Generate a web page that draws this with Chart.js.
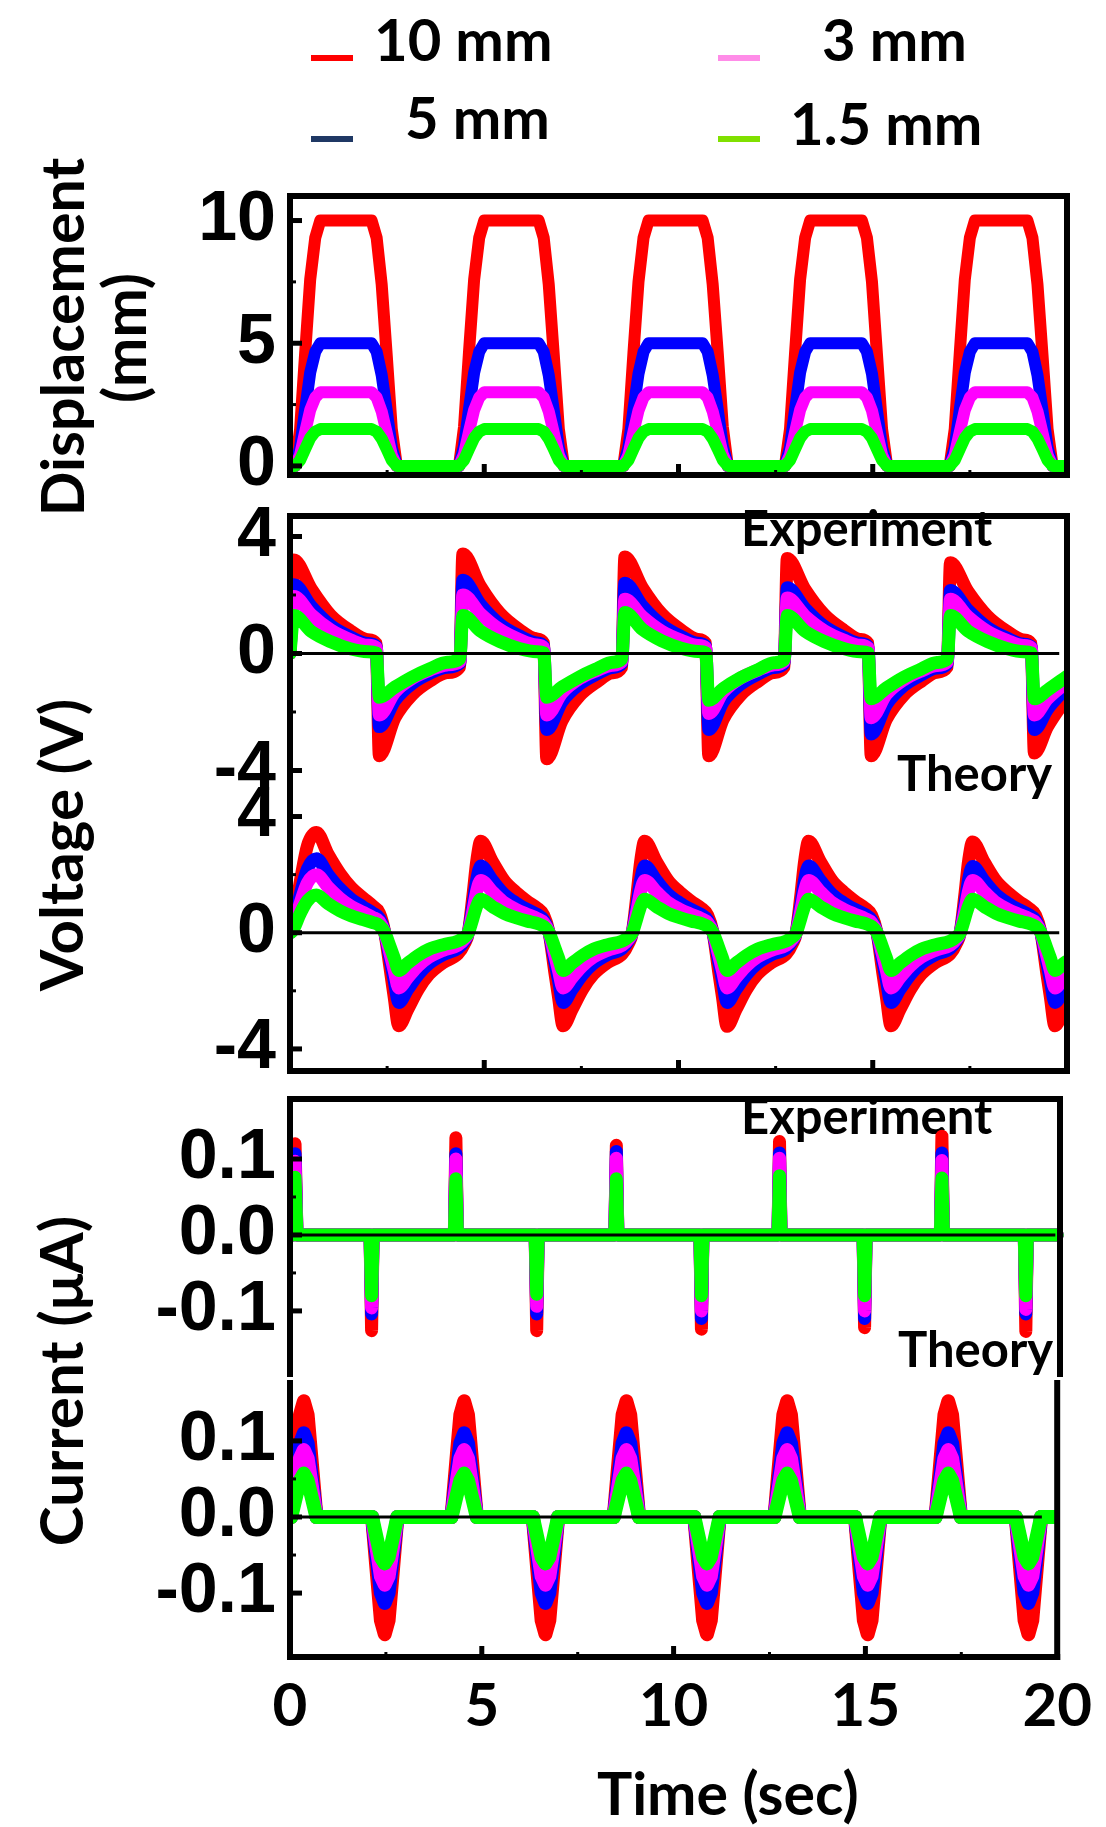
<!DOCTYPE html>
<html>
<head>
<meta charset="utf-8">
<script src="https://cdn.jsdelivr.net/npm/chart.js@4.4.1/dist/chart.umd.min.js"></script>
<style>
  html, body { margin: 0; padding: 0; background: #fff; }
  #page { position: relative; width: 1106px; height: 1827px; overflow: hidden; background: #fff; }
  canvas { position: absolute; left: 0; }
  .t { position: absolute; font-family: Lato, 'Open Sans', sans-serif; font-weight: 700; color: #000; white-space: nowrap; line-height: 1; }
  .rot { transform: translate(-50%, -50%) rotate(-90deg); }
  .dash { position: absolute; height: 6px; }
</style>
</head>
<body>
<div id="page">
  <div class="t rot" style="left:61px;top:337px;font-size:59px">Displacement</div>
  <div class="t rot" style="left:123px;top:338px;font-size:59px">(mm)</div>
  <div class="t rot" style="left:60px;top:845px;font-size:60px">Voltage (V)</div>
  <div class="t rot" style="left:60px;top:1381px;font-size:60px">Current (μA)</div>
  <div class="t" style="left:741px;top:503px;font-size:49px">Experiment</div>
  <div class="t" style="left:897px;top:748px;font-size:49px">Theory</div>
  <div class="t" style="left:741px;top:1091px;font-size:49px">Experiment</div>
  <div class="t" style="left:898px;top:1324px;font-size:49px">Theory</div>
  <div class="t" style="left:597px;top:1763px;font-size:59px">Time (sec)</div>
  <div id="legend"></div>
  <canvas id="c1" width="1106" height="440" style="top:120px;width:1106px;height:440px"></canvas>
  <canvas id="c2" width="1106" height="430" style="top:440px;width:1106px;height:430px"></canvas>
  <canvas id="c3" width="1106" height="435" style="top:715px;width:1106px;height:435px"></canvas>
  <canvas id="c4" width="1106" height="435" style="top:1020px;width:1106px;height:435px"></canvas>
  <canvas id="c5" width="1106" height="527" style="top:1300px;width:1106px;height:527px"></canvas>
</div>
<script>
// ---------------- series / legend ----------------
const seriesNames = ['10 mm', '5 mm', '3 mm', '1.5 mm'];
const lineColors = ['#ff0000', '#0000ff', '#ff00ff', '#00ff00'];
const legendColors = ['#ff0000', '#1f3864', '#ff8ce8', '#80e000'];

// ---------------- ticks ----------------
const timeTicks = [0, 5, 10, 15, 20];
const timeMinorTicks = [2.5, 7.5, 12.5, 17.5];
const dispTicks = [0, 5, 10];
const dispMinorTicks = [2.5, 7.5];
const voltTicks = [-4, 0, 4];
const voltMinorTicks = [-2, 2];
const currTicks = [-0.1, 0, 0.1];
const currMinorTicks = [-0.05, 0.05];

// ---------------- displacement (mm) ----------------
const dispTime = [0,
  0.13,0.26,0.39,0.52,0.65,0.78, 2.10,2.23,2.36,2.49,2.62,2.75,
  4.35,4.48,4.61,4.74,4.87,5.00, 6.40,6.53,6.66,6.79,6.92,7.05,
  8.58,8.71,8.84,8.97,9.10,9.23, 10.62,10.75,10.88,11.01,11.14,11.27,
  12.74,12.87,13.00,13.13,13.26,13.39, 14.72,14.85,14.98,15.11,15.24,15.37,
  16.98,17.11,17.24,17.37,17.50,17.63, 18.98,19.11,19.24,19.37,19.50,19.63,
  20];
const disp10mm = [0,
  0,1.5,4.6,7.6,9.3,10, 10,9.3,7.4,4.5,1.5,0,
  0,1.6,4.7,7.6,9.3,10, 10,9.3,7.4,4.5,1.5,0,
  0,1.5,4.6,7.5,9.3,10, 10,9.3,7.4,4.6,1.6,0,
  0,1.5,4.6,7.6,9.3,10, 10,9.3,7.5,4.5,1.5,0,
  0,1.5,4.6,7.6,9.3,10, 10,9.3,7.4,4.5,1.5,0,
  0];
const disp5mm = [0,
  0,0.75,2.3,3.8,4.65,5, 5,4.65,3.7,2.25,0.75,0,
  0,0.8,2.35,3.8,4.65,5, 5,4.65,3.7,2.25,0.75,0,
  0,0.75,2.3,3.75,4.65,5, 5,4.65,3.7,2.3,0.8,0,
  0,0.75,2.3,3.8,4.65,5, 5,4.65,3.75,2.25,0.75,0,
  0,0.75,2.3,3.8,4.65,5, 5,4.65,3.7,2.25,0.75,0,
  0];
const disp3mm = [0,
  0,0.45,1.38,2.28,2.79,3, 3,2.79,2.22,1.35,0.45,0,
  0,0.48,1.41,2.28,2.79,3, 3,2.79,2.22,1.35,0.45,0,
  0,0.45,1.38,2.25,2.79,3, 3,2.79,2.22,1.38,0.48,0,
  0,0.45,1.38,2.28,2.79,3, 3,2.79,2.25,1.35,0.45,0,
  0,0.45,1.38,2.28,2.79,3, 3,2.79,2.22,1.35,0.45,0,
  0];
const disp1p5mm = [0,
  0,0.23,0.69,1.14,1.4,1.5, 1.5,1.4,1.11,0.68,0.23,0,
  0,0.24,0.7,1.14,1.4,1.5, 1.5,1.4,1.11,0.68,0.23,0,
  0,0.23,0.69,1.13,1.4,1.5, 1.5,1.4,1.11,0.69,0.24,0,
  0,0.23,0.69,1.14,1.4,1.5, 1.5,1.4,1.13,0.68,0.23,0,
  0,0.23,0.69,1.14,1.4,1.5, 1.5,1.4,1.11,0.68,0.23,0,
  0];

// ---------------- voltage, experiment (V) ----------------
const voltExpTime = [0,0.1,0.55,1.05,1.55,2.0,2.22,
  2.3,2.7,3.15,3.6,4.05,4.37,
  4.45,4.9,5.4,5.9,6.35,6.53,
  6.61,7.0,7.45,7.9,8.3,8.54,
  8.62,9.07,9.57,10.07,10.5,10.7,
  10.78,11.15,11.6,12.05,12.45,12.72,
  12.8,13.25,13.75,14.25,14.68,14.88,
  14.96,15.35,15.8,16.25,16.65,16.92,
  17.0,17.45,17.95,18.45,18.88,19.08,
  19.16,19.5,20];
const voltExp10mm = [0,3.2,2.2,1.3,0.78,0.47,0.33,
  -3.5,-2.2,-1.4,-0.94,-0.65,-0.45,
  3.4,2.3,1.38,0.82,0.5,0.35,
  -3.6,-2.3,-1.45,-0.97,-0.66,-0.46,
  3.3,2.25,1.35,0.8,0.48,0.34,
  -3.5,-2.25,-1.42,-0.95,-0.65,-0.45,
  3.25,2.2,1.33,0.8,0.48,0.34,
  -3.5,-2.25,-1.42,-0.95,-0.64,-0.45,
  3.1,2.12,1.28,0.76,0.46,0.33,
  -3.4,-2.5,-1.5];
const voltExp5mm = [0,2.35,1.6,0.95,0.57,0.34,0.24,
  -2.5,-1.6,-1.02,-0.68,-0.47,-0.33,
  2.5,1.68,1.0,0.6,0.36,0.25,
  -2.6,-1.65,-1.05,-0.7,-0.48,-0.34,
  2.4,1.62,0.97,0.58,0.35,0.25,
  -2.6,-1.65,-1.05,-0.7,-0.48,-0.33,
  2.25,1.55,0.93,0.56,0.34,0.24,
  -2.75,-1.75,-1.1,-0.73,-0.5,-0.35,
  2.15,1.48,0.89,0.53,0.32,0.23,
  -2.6,-1.9,-1.15];
const voltExp3mm = [0,1.95,1.32,0.8,0.47,0.28,0.2,
  -2.1,-1.32,-0.85,-0.57,-0.39,-0.28,
  2.0,1.36,0.82,0.48,0.29,0.2,
  -2.1,-1.35,-0.86,-0.58,-0.4,-0.28,
  1.85,1.26,0.76,0.45,0.27,0.19,
  -2.05,-1.32,-0.84,-0.57,-0.39,-0.27,
  1.9,1.29,0.78,0.46,0.28,0.19,
  -2.2,-1.4,-0.9,-0.6,-0.41,-0.29,
  1.85,1.26,0.76,0.45,0.27,0.19,
  -2.1,-1.55,-0.98];
const voltExp1p5mm = [0,1.3,0.75,0.4,0.16,0.06,0.02,
  -1.5,-1.15,-0.8,-0.52,-0.3,-0.18,
  1.3,0.77,0.41,0.17,0.06,0.02,
  -1.5,-1.15,-0.8,-0.52,-0.3,-0.19,
  1.4,0.82,0.43,0.18,0.07,0.02,
  -1.6,-1.2,-0.83,-0.55,-0.32,-0.2,
  1.3,0.77,0.41,0.17,0.06,0.02,
  -1.55,-1.18,-0.81,-0.53,-0.31,-0.19,
  1.3,0.77,0.41,0.17,0.06,0.02,
  -1.55,-1.25,-0.78];

// ---------------- voltage, theory (V) ----------------
const voltThTime = [0,0.05,0.27,0.45,0.68,0.98,1.28,1.58,1.88,2.13,2.3,2.44,2.58,2.68,2.8,3.03,3.3,3.58,3.95,4.32,
  4.5,4.59,4.71,4.81,4.91,5.21,5.51,5.81,6.11,6.36,6.53,6.67,6.81,6.91,7.03,7.26,7.53,7.81,8.18,8.55,
  8.72,8.81,8.93,9.03,9.13,9.43,9.73,10.03,10.33,10.58,10.75,10.89,11.03,11.13,11.25,11.48,11.75,12.03,12.4,12.77,
  12.94,13.03,13.15,13.25,13.35,13.65,13.95,14.25,14.55,14.8,14.97,15.11,15.25,15.35,15.47,15.7,15.97,16.25,16.62,16.99,
  17.16,17.25,17.37,17.47,17.57,17.87,18.17,18.47,18.77,19.02,19.19,19.33,19.47,19.57,19.69,19.92,20];
const voltTh10mm = [0,0.1,1.8,3.0,3.45,2.7,2.05,1.55,1.2,0.92,0.68,0,-1.26,-2.2,-3.2,-2.64,-1.95,-1.43,-1.02,-0.73,
  -0.35,0,1.3,2.5,3.15,2.45,1.8,1.4,1.08,0.85,0.6,0,-1.3,-2.2,-3.2,-2.64,-1.95,-1.43,-1.02,-0.73,
  -0.35,0,1.3,2.5,3.15,2.45,1.8,1.4,1.08,0.85,0.6,0,-1.3,-2.2,-3.22,-2.64,-1.95,-1.43,-1.02,-0.73,
  -0.35,0,1.3,2.5,3.15,2.45,1.8,1.4,1.08,0.85,0.6,0,-1.3,-2.2,-3.2,-2.64,-1.95,-1.43,-1.02,-0.73,
  -0.35,0,1.3,2.5,3.12,2.43,1.79,1.39,1.07,0.84,0.6,0,-1.3,-2.2,-3.2,-2.64,-2.45];
const voltTh5mm = [0,0.08,1.35,2.2,2.55,2.0,1.52,1.15,0.89,0.68,0.5,0,-0.93,-1.63,-2.4,-1.95,-1.44,-1.06,-0.75,-0.54,
  -0.26,0,0.96,1.85,2.3,1.8,1.33,1.03,0.8,0.63,0.44,0,-0.96,-1.63,-2.4,-1.95,-1.44,-1.06,-0.75,-0.54,
  -0.26,0,0.96,1.85,2.3,1.8,1.33,1.03,0.8,0.63,0.44,0,-0.96,-1.63,-2.4,-1.95,-1.44,-1.06,-0.75,-0.54,
  -0.26,0,0.96,1.85,2.3,1.8,1.33,1.03,0.8,0.63,0.44,0,-0.96,-1.63,-2.4,-1.95,-1.44,-1.06,-0.75,-0.54,
  -0.26,0,0.96,1.85,2.28,1.78,1.32,1.02,0.79,0.62,0.44,0,-0.96,-1.63,-2.4,-1.95,-1.82];
const voltTh3mm = [0,0.06,1.05,1.72,2.0,1.57,1.19,0.9,0.7,0.53,0.39,0,-0.75,-1.3,-1.9,-1.55,-1.14,-0.84,-0.6,-0.43,
  -0.21,0,0.76,1.46,1.8,1.41,1.04,0.81,0.63,0.49,0.35,0,-0.75,-1.3,-1.9,-1.55,-1.14,-0.84,-0.6,-0.43,
  -0.21,0,0.76,1.46,1.8,1.41,1.04,0.81,0.63,0.49,0.35,0,-0.75,-1.3,-1.9,-1.55,-1.14,-0.84,-0.6,-0.43,
  -0.21,0,0.76,1.46,1.8,1.41,1.04,0.81,0.63,0.49,0.35,0,-0.75,-1.3,-1.9,-1.55,-1.14,-0.84,-0.6,-0.43,
  -0.21,0,0.76,1.46,1.8,1.41,1.04,0.81,0.63,0.49,0.35,0,-0.75,-1.3,-1.9,-1.55,-1.45];
const voltTh1p5mm = [0,0.03,0.68,1.1,1.3,1.0,0.76,0.58,0.45,0.35,0.25,0,-0.49,-0.86,-1.3,-1.05,-0.78,-0.57,-0.41,-0.29,
  -0.14,0,0.5,0.93,1.15,0.9,0.67,0.52,0.4,0.32,0.22,0,-0.49,-0.86,-1.3,-1.05,-0.78,-0.57,-0.41,-0.29,
  -0.14,0,0.5,0.93,1.15,0.9,0.67,0.52,0.4,0.32,0.22,0,-0.49,-0.86,-1.3,-1.05,-0.78,-0.57,-0.41,-0.29,
  -0.14,0,0.5,0.93,1.15,0.9,0.67,0.52,0.4,0.32,0.22,0,-0.49,-0.86,-1.3,-1.05,-0.78,-0.57,-0.41,-0.29,
  -0.14,0,0.5,0.93,1.15,0.9,0.67,0.52,0.4,0.32,0.22,0,-0.49,-0.86,-1.3,-1.05,-0.98];

// ---------------- current, experiment (uA) ----------------
const currExpTime = [0.04, 0.08,0.13,0.18, 2.06,2.1,2.14, 4.23,4.27,4.31, 6.31,6.35,6.39,
  8.36,8.4,8.44, 10.55,10.59,10.63, 12.56,12.6,12.64, 14.75,14.79,14.83,
  16.74,16.78,16.82, 18.9,18.94,18.98, 19.75];
const currExp10mm = [0, 0,0.12,0, 0,-0.126,0, 0,0.128,0, 0,-0.126,0,
  0,0.118,0, 0,-0.124,0, 0,0.123,0, 0,-0.122,0, 0,0.13,0, 0,-0.127,0, 0];
const currExp5mm = [0, 0,0.107,0, 0,-0.104,0, 0,0.107,0, 0,-0.104,0,
  0,0.11,0, 0,-0.11,0, 0,0.108,0, 0,-0.11,0, 0,0.108,0, 0,-0.104,0, 0];
const currExp3mm = [0, 0,0.097,0, 0,-0.096,0, 0,0.1,0, 0,-0.094,0,
  0,0.101,0, 0,-0.1,0, 0,0.101,0, 0,-0.1,0, 0,0.098,0, 0,-0.098,0, 0];
const currExp1p5mm = [0, 0,0.076,0, 0,-0.08,0, 0,0.074,0, 0,-0.078,0,
  0,0.074,0, 0,-0.08,0, 0,0.078,0, 0,-0.08,0, 0,0.075,0, 0,-0.08,0, 0];

// ---------------- current, theory (uA) ----------------
const currThTime = [0,
  0.03,0.16,0.26,0.36,0.46,0.56,0.69,
  2.14,2.27,2.37,2.47,2.57,2.67,2.80,
  4.21,4.34,4.44,4.54,4.64,4.74,4.87,
  6.33,6.46,6.56,6.66,6.76,6.86,6.99,
  8.44,8.57,8.67,8.77,8.87,8.97,9.10,
  10.54,10.67,10.77,10.87,10.97,11.07,11.20,
  12.63,12.76,12.86,12.96,13.06,13.16,13.29,
  14.73,14.86,14.96,15.06,15.16,15.26,15.39,
  16.83,16.96,17.06,17.16,17.26,17.36,17.49,
  18.92,19.05,19.15,19.25,19.35,19.45,19.58,
  20];
const currTh10mm = [0,
  0,0.076,0.134,0.152,0.134,0.076,0,  0,-0.077,-0.136,-0.154,-0.136,-0.077,0,
  0,0.076,0.134,0.152,0.134,0.076,0,  0,-0.077,-0.136,-0.154,-0.136,-0.077,0,
  0,0.076,0.134,0.152,0.134,0.076,0,  0,-0.077,-0.136,-0.154,-0.136,-0.077,0,
  0,0.076,0.134,0.152,0.134,0.076,0,  0,-0.077,-0.136,-0.154,-0.136,-0.077,0,
  0,0.076,0.134,0.152,0.134,0.076,0,  0,-0.077,-0.136,-0.154,-0.136,-0.077,0,
  0];
const currTh5mm = [0,
  0,0.055,0.097,0.11,0.097,0.055,0,  0,-0.057,-0.1,-0.113,-0.1,-0.057,0,
  0,0.055,0.097,0.11,0.097,0.055,0,  0,-0.057,-0.1,-0.113,-0.1,-0.057,0,
  0,0.055,0.097,0.11,0.097,0.055,0,  0,-0.057,-0.1,-0.113,-0.1,-0.057,0,
  0,0.055,0.097,0.11,0.097,0.055,0,  0,-0.057,-0.1,-0.113,-0.1,-0.057,0,
  0,0.055,0.097,0.11,0.097,0.055,0,  0,-0.057,-0.1,-0.113,-0.1,-0.057,0,
  0];
const currTh3mm = [0,
  0,0.044,0.077,0.088,0.077,0.044,0,  0,-0.045,-0.078,-0.089,-0.078,-0.045,0,
  0,0.044,0.077,0.088,0.077,0.044,0,  0,-0.045,-0.078,-0.089,-0.078,-0.045,0,
  0,0.044,0.077,0.088,0.077,0.044,0,  0,-0.045,-0.078,-0.089,-0.078,-0.045,0,
  0,0.044,0.077,0.088,0.077,0.044,0,  0,-0.045,-0.078,-0.089,-0.078,-0.045,0,
  0,0.044,0.077,0.088,0.077,0.044,0,  0,-0.045,-0.078,-0.089,-0.078,-0.045,0,
  0];
const currTh1p5mm = [0,
  0,0.027,0.048,0.057,0.048,0.027,0,  0,-0.03,-0.053,-0.061,-0.053,-0.03,0,
  0,0.027,0.048,0.057,0.048,0.027,0,  0,-0.03,-0.053,-0.061,-0.053,-0.03,0,
  0,0.027,0.048,0.057,0.048,0.027,0,  0,-0.03,-0.053,-0.061,-0.053,-0.03,0,
  0,0.027,0.048,0.057,0.048,0.027,0,  0,-0.03,-0.053,-0.061,-0.053,-0.03,0,
  0,0.027,0.048,0.057,0.048,0.027,0,  0,-0.03,-0.053,-0.061,-0.053,-0.03,0,
  0];

// ---------------- legend (HTML) ----------------
(function buildLegend() {
  const pos = [
    {dx: 311, dy: 55, tx: 374, ty: 10},
    {dx: 311, dy: 136, tx: 405, ty: 88},
    {dx: 718, dy: 55, tx: 822, ty: 10},
    {dx: 718, dy: 136, tx: 790, ty: 94}
  ];
  const host = document.getElementById('legend');
  seriesNames.forEach((name, i) => {
    const d = document.createElement('div');
    d.className = 'dash';
    d.style.cssText = `left:${pos[i].dx}px;top:${pos[i].dy}px;width:42px;background:${legendColors[i]}`;
    host.appendChild(d);
    const t = document.createElement('div');
    t.className = 't';
    t.style.cssText = `left:${pos[i].tx}px;top:${pos[i].ty}px;font-size:58px`;
    t.textContent = name;
    host.appendChild(t);
  });
})();

// ---------------- chart helpers ----------------
function buildDatasets(xs, ysList, width, mode) {
  return ysList.map((ys, i) => ({
    label: seriesNames[i],
    data: xs.map((x, j) => ({x: x, y: ys[j]})),
    borderColor: lineColors[i],
    backgroundColor: lineColors[i],
    borderWidth: width,
    pointRadius: 0,
    fill: false,
    tension: 0,
    cubicInterpolationMode: mode || 'default',
    borderCapStyle: 'round',
    borderJoinStyle: 'round',
    order: 3 - i
  }));
}

function framePlugin(o) {
  return {
    id: 'frame',
    afterDatasetsDraw(chart) {
      const ctx = chart.ctx, a = chart.chartArea;
      const xs = chart.scales.x, ys = chart.scales.y;
      const seg = (x1, y1, x2, y2) => { ctx.beginPath(); ctx.moveTo(x1, y1); ctx.lineTo(x2, y2); ctx.stroke(); };
      ctx.save();
      ctx.strokeStyle = '#000';
      if (o.zero) {
        const y0 = ys.getPixelForValue(0);
        ctx.lineWidth = 3; ctx.lineCap = 'butt';
        seg(xs.getPixelForValue(o.zeroFrom), y0, xs.getPixelForValue(o.zeroTo), y0);
      }
      const L = a.left, R = a.right - (o.rightInset || 0), T = a.top, B = a.bottom;
      ctx.lineWidth = 6; ctx.lineCap = 'square';
      if (o.top) seg(L, T, R, T);
      if (o.bottom) seg(L, B, R, B);
      ctx.lineCap = 'butt';
      const yTop = o.top ? T - 3 : T, yBot = o.bottom ? B + 3 : B;
      seg(L, yTop, L, yBot);
      seg(R, yTop, R, yBot);
      o.yMajor.forEach(v => { ctx.lineWidth = 5; const y = ys.getPixelForValue(v); seg(L, y, L + 12, y); });
      o.yMinor.forEach(v => { ctx.lineWidth = 3; const y = ys.getPixelForValue(v); seg(L, y, L + 6, y); });
      if (o.bottom) {
        timeTicks.slice(1, -1).forEach(v => { ctx.lineWidth = 5; const x = xs.getPixelForValue(v); seg(x, B, x, B - 11); });
        timeMinorTicks.forEach(v => { ctx.lineWidth = 3; const x = xs.getPixelForValue(v); seg(x, B, x, B - 5); });
      }
      ctx.restore();
    }
  };
}

function makeChart(id, datasets, o) {
  return new Chart(document.getElementById(id), {
    type: 'line',
    data: { datasets: datasets },
    options: {
      responsive: false,
      animation: false,
      devicePixelRatio: 1,
      events: [],
      layout: { padding: { left: 0, right: 39, top: o.padTop, bottom: o.padBottom } },
      plugins: { legend: { display: false }, tooltip: { enabled: false } },
      scales: {
        x: {
          type: 'linear', min: 0, max: 20, display: !!o.showX,
          grid: { display: false, drawTicks: false },
          border: { display: false },
          afterBuildTicks: s => { s.ticks = timeTicks.map(v => ({ value: v })); },
          afterFit: s => { if (o.showX) s.height = 100; },
          ticks: {
            font: { family: 'Lato', weight: 'bold', size: 60, lineHeight: 1.2 },
            color: '#000', padding: 14, maxRotation: 0, autoSkip: false,
            callback: v => String(v)
          }
        },
        y: {
          type: 'linear', min: o.yMin, max: o.yMax,
          grid: { display: false, drawTicks: false },
          border: { display: false },
          afterBuildTicks: s => { s.ticks = o.yMajor.map(v => ({ value: v })); },
          afterFit: s => { s.width = 290; },
          ticks: {
            font: { family: "'Liberation Sans', Arial, sans-serif", weight: 'bold', size: 70, lineHeight: 1.2 },
            color: '#000', padding: 14, autoSkip: false,
            callback: o.fmt
          }
        }
      }
    },
    plugins: [framePlugin(o)]
  });
}

const fmtInt = v => String(v);
const fmt1 = v => Number(v).toFixed(1);

makeChart('c1', buildDatasets(dispTime, [disp10mm, disp5mm, disp3mm, disp1p5mm], 12), {
  padTop: 76, padBottom: 85, yMin: -0.37, yMax: 11.0,
  yMajor: dispTicks, yMinor: dispMinorTicks, fmt: fmtInt,
  top: true, bottom: true, zero: false
});
makeChart('c2', buildDatasets(voltExpTime, [voltExp10mm, voltExp5mm, voltExp3mm, voltExp1p5mm], 13, 'monotone'), {
  padTop: 76, padBottom: 77, yMin: -4.77, yMax: 4.70,
  yMajor: voltTicks, yMinor: voltMinorTicks, fmt: fmtInt,
  top: true, bottom: false, zero: true, zeroFrom: 0.2, zeroTo: 19.8
});
makeChart('c3', buildDatasets(voltThTime, [voltTh10mm, voltTh5mm, voltTh3mm, voltTh1p5mm], 13, 'monotone'), {
  padTop: 78, padBottom: 79, yMin: -4.76, yMax: 4.81,
  yMajor: voltTicks, yMinor: voltMinorTicks, fmt: fmtInt,
  top: false, bottom: true, zero: true, zeroFrom: 0.2, zeroTo: 19.8
});
makeChart('c4', buildDatasets(currExpTime, [currExp10mm, currExp5mm, currExp3mm, currExp1p5mm], 13), {
  padTop: 79, padBottom: 78, yMin: -0.187, yMax: 0.179,
  yMajor: currTicks, yMinor: currMinorTicks, fmt: fmt1,
  top: true, bottom: false, zero: true, zeroFrom: 0.25, zeroTo: 19.7, rightInset: 7
});
makeChart('c5', buildDatasets(currThTime, [currTh10mm, currTh5mm, currTh3mm, currTh1p5mm], 14), {
  padTop: 80, padBottom: 70, yMin: -0.184, yMax: 0.18, showX: true,
  yMajor: currTicks, yMinor: currMinorTicks, fmt: fmt1,
  top: false, bottom: true, zero: true, zeroFrom: 0.1, zeroTo: 19.6
});
</script>
</body>
</html>
